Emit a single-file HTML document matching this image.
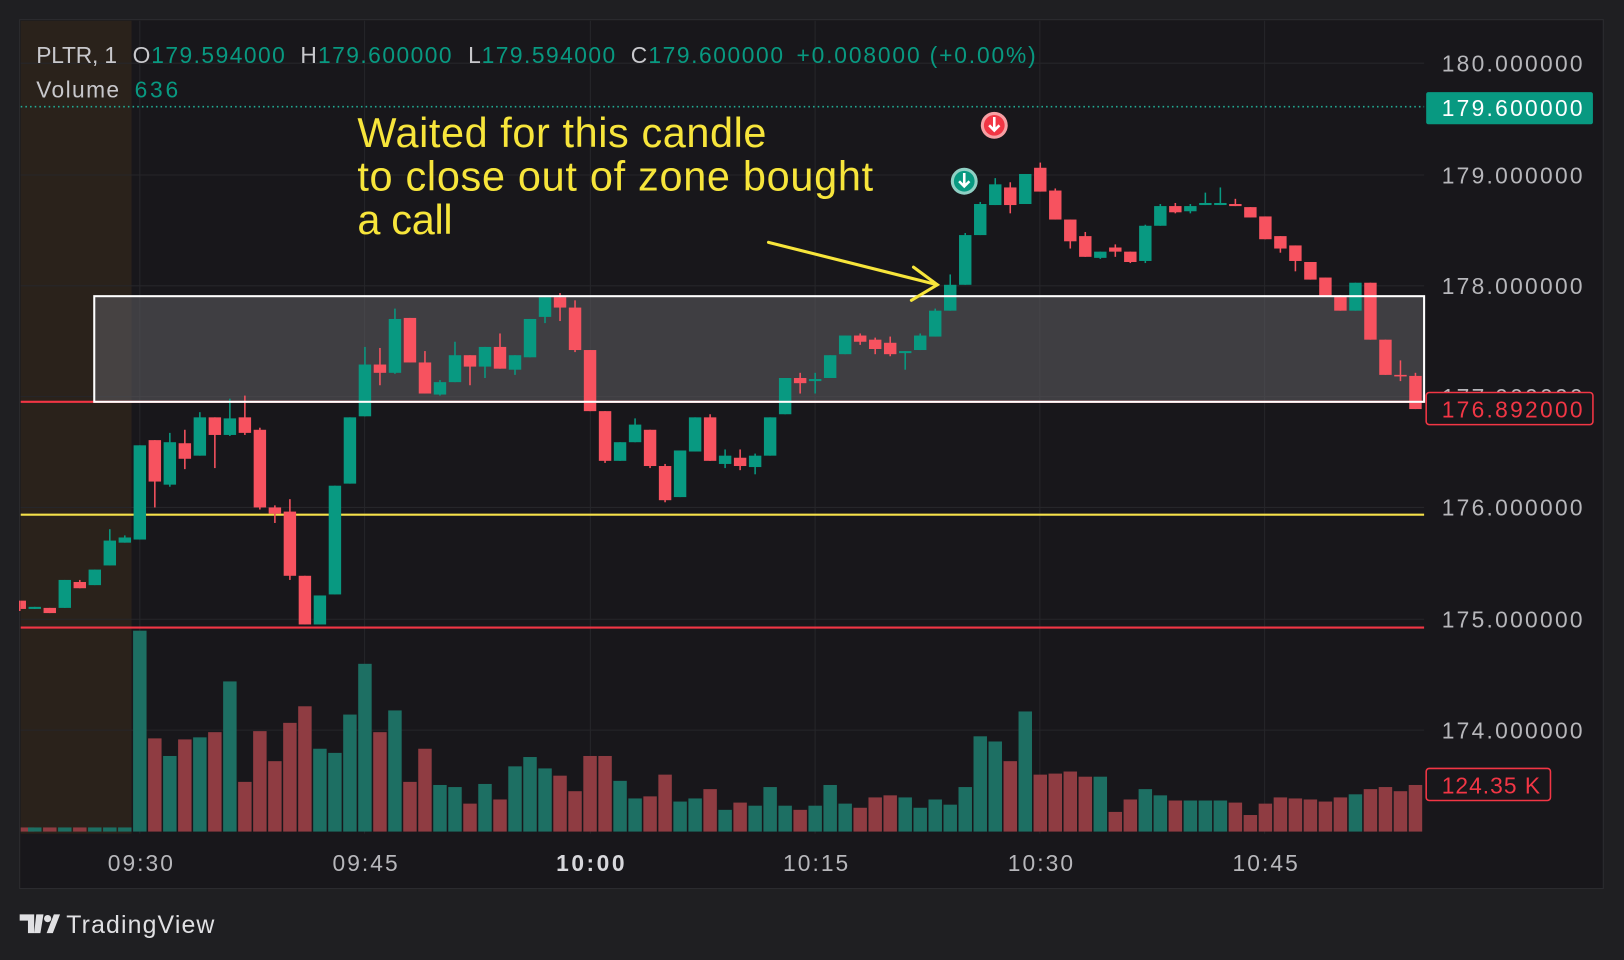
<!DOCTYPE html>
<html><head><meta charset="utf-8"><style>
html,body{margin:0;padding:0;background:#1f1f22;overflow:hidden}
svg{display:block}
text{font-family:"Liberation Sans",sans-serif}
</style></head><body>
<svg id="s" width="1624" height="960" viewBox="0 0 1568 927" preserveAspectRatio="none" xmlns="http://www.w3.org/2000/svg">
<rect x="0" y="0" width="1568" height="927" fill="#1f1f22"/>
<rect x="19" y="19" width="1529" height="839" fill="#18171b" stroke="#2c2c30" stroke-width="1"/>
<rect x="20" y="20" width="107" height="785" fill="#2a221b"/>
<g id="grid" stroke="#26262a" stroke-width="1"></g>
<rect x="91" y="286" width="1284" height="102" fill="#5a595e" fill-opacity="0.6"/>
<line x1="20" y1="388" x2="1375" y2="388" stroke="#f23645" stroke-width="2"/>
<line x1="20" y1="497" x2="1375" y2="497" stroke="#f5e14a" stroke-width="2"/>
<line x1="20" y1="606" x2="1375" y2="606" stroke="#f23645" stroke-width="2"/>
<line x1="20" y1="103" x2="1375" y2="103" stroke="#22ab94" stroke-width="1.5" stroke-dasharray="1.5,3"/>
<g id="vol"></g>
<g id="cand"></g>
<rect x="91" y="286" width="1284" height="102" fill="none" stroke="#ffffff" stroke-width="2"/>
<g font-size="22" fill="#b7b7bb">
<text x="1392" y="69" textLength="136">180.000000</text>
<text x="1392" y="177" textLength="136">179.000000</text>
<text x="1392" y="284" textLength="136">178.000000</text>
<text x="1392" y="391" textLength="136">177.000000</text>
<text x="1392" y="498" textLength="136">176.000000</text>
<text x="1392" y="606" textLength="136">175.000000</text>
<text x="1392" y="713" textLength="136">174.000000</text>
</g>
<rect x="1377" y="89" width="161" height="31" rx="2" fill="#089981"/>
<text x="1392" y="112" font-size="22" fill="#ffffff" textLength="136">179.600000</text>
<rect x="1377" y="379" width="161" height="31" rx="3" fill="#18171b" stroke="#f23645" stroke-width="1.5"/>
<text x="1392" y="403" font-size="22" fill="#f23645" textLength="136">176.892000</text>
<rect x="1377" y="742" width="120" height="31" rx="3" fill="#18171b" stroke="#f23645" stroke-width="1.5"/>
<text x="1392" y="766" font-size="22" fill="#f23645" textLength="95">124.35 K</text>
<g font-size="22" fill="#b7b7bb">
<text x="104" y="841" textLength="63">09:30</text>
<text x="321" y="841" textLength="63">09:45</text>
<text x="537" y="841" textLength="66" font-weight="bold" fill="#d8d8dc">10:00</text>
<text x="756" y="841" textLength="63">10:15</text>
<text x="973" y="841" textLength="63">10:30</text>
<text x="1190" y="841" textLength="63">10:45</text>
</g>
<g font-size="22" fill="#c8c8cc">
<text x="35" y="61" textLength="78">PLTR, 1</text>
<text x="128" y="61">O</text><text x="146" y="61" fill="#089981" textLength="129">179.594000</text>
<text x="290" y="61">H</text><text x="307" y="61" fill="#089981" textLength="129">179.600000</text>
<text x="452" y="61">L</text><text x="465" y="61" fill="#089981" textLength="129">179.594000</text>
<text x="609" y="61">C</text><text x="626" y="61" fill="#089981" textLength="130">179.600000</text>
<text x="769" y="61" fill="#089981" textLength="231">+0.008000 (+0.00%)</text>
<text x="35" y="94" textLength="80">Volume</text>
<text x="130" y="94" fill="#089981" textLength="42">636</text>
</g>
<g font-size="40" fill="#f7e53b">
<text x="345" y="142" textLength="395">Waited for this candle</text>
<text x="345" y="184" textLength="498">to close out of zone bought</text>
<text x="345" y="226" textLength="92">a call</text>
</g>
<g stroke="#f7e53b" stroke-width="3" fill="none" stroke-linecap="round">
<line x1="742" y1="234" x2="905" y2="275"/>
<polyline points="882,258 905,275 880,290"/>
</g>
<circle cx="960" cy="121" r="13" fill="#f7a0a4"/><circle cx="960" cy="121" r="10" fill="#f23645"/>
<path d="M960 113 v12 M955 121 l5 5 l5 -5" stroke="#fff" stroke-width="2.5" fill="none"/>
<circle cx="931" cy="175" r="13" fill="#8fd0c4"/><circle cx="931" cy="175" r="10" fill="#089981"/>
<path d="M931 167 v12 M926 175 l5 5 l5 -5" stroke="#fff" stroke-width="2.5" fill="none"/>
<g fill="#e0e0e3"><path d="M19 883 h14 v18 h-6 v-12 h-8z M35 883 h7 l-3 18 h-6z"/><circle cx="46" cy="887" r="3.5"/><path d="M52 883 h6 l-7 18 h-6z"/></g>
<text x="64" y="901" font-size="24" fill="#e0e0e3" textLength="143">TradingView</text>
</svg>
<script>
const NS="http://www.w3.org/2000/svg";
function el(p,t,a){const e=document.createElementNS(NS,t);for(const k in a)e.setAttribute(k,a[k]);p.appendChild(e);return e;}
const g=document.getElementById('grid');
[61,169,276,383,490,598,705].forEach(y=>el(g,'line',{x1:20,y1:y,x2:1375,y2:y}));
[135,352,570,787,1004,1221].forEach(x=>el(g,'line',{x1:x,y1:20,x2:x,y2:805}));
const C=[
[-8,580,588,580,590,'r'],[-7,586,588,586,588,'g'],[-6,587,592,587,592,'r'],[-5,560,587,560,587,'g'],
[-4,562,568,560,568,'r'],[-3,550,565,550,565,'g'],[-2,522,546,511,546,'g'],[-1,519,524,517,524,'g'],
[0,430,521,430,521,'g'],[1,425,465,425,490,'r'],[2,427,468,418,470,'g'],[3,428,443,415,453,'r'],
[4,403,440,398,440,'g'],[5,403,420,403,452,'r'],[6,404,420,385,421,'g'],[7,403,418,382,420,'r'],
[8,415,490,413,492,'r'],[9,490,496,488,505,'r'],[10,494,556,482,560,'r'],[11,556,603,556,603,'r'],
[12,575,603,575,603,'g'],[13,469,574,469,574,'g'],[14,403,467,403,467,'g'],[15,352,402,335,402,'g'],
[16,352,360,336,372,'r'],[17,308,360,298,361,'g'],[18,307,350,307,350,'r'],[19,350,380,339,380,'r'],
[20,369,381,367,382,'g'],[21,343,369,330,369,'g'],[22,343,354,343,372,'r'],[23,335,354,335,365,'g'],
[24,335,356,322,356,'r'],[25,343,357,343,362,'g'],[26,308,345,308,345,'g'],[27,287,306,287,312,'g'],
[28,287,297,283,310,'r'],[29,297,338,290,340,'r'],[30,338,397,338,397,'r'],[31,397,445,397,447,'r'],
[32,427,445,427,445,'g'],[33,410,427,404,427,'g'],[34,415,450,415,452,'r'],[35,450,483,448,485,'r'],
[36,435,480,435,480,'g'],[37,403,436,403,436,'g'],[38,403,445,400,445,'r'],[39,440,448,434,452,'g'],
[40,442,450,434,454,'r'],[41,440,451,438,458,'g'],[42,403,440,403,440,'g'],[43,365,400,365,400,'g'],
[44,365,370,360,380,'r'],[45,366,368,360,380,'g'],[46,343,365,343,365,'g'],[47,324,342,324,342,'g'],
[48,324,330,322,333,'r'],[49,328,337,326,342,'r'],[50,331,342,325,344,'r'],[51,339,341,339,357,'g'],
[52,324,338,322,338,'g'],[53,300,325,298,325,'g'],[54,275,300,265,300,'g'],[55,227,275,225,275,'g'],
[56,197,227,195,227,'g'],[57,178,198,172,198,'g'],[58,181,198,176,206,'r'],[59,168,197,168,197,'g'],
[60,162,185,157,185,'r'],[61,184,212,182,212,'r'],[62,212,233,212,240,'r'],[63,228,248,224,248,'r'],
[64,243,249,243,250,'g'],[65,239,243,236,248,'r'],[66,243,253,243,254,'r'],[67,218,252,217,254,'g'],
[68,199,218,197,218,'g'],[69,199,205,196,206,'r'],[70,199,204,197,206,'g'],[71,196,198,186,198,'g'],
[72,196,198,181,198,'g'],[73,197,199,192,199,'r'],[74,200,210,200,210,'r'],[75,209,231,209,231,'r'],
[76,228,240,228,244,'r'],[77,237,252,237,262,'r'],[78,253,270,253,270,'r'],[79,268,286,268,286,'r'],
[80,286,300,285,300,'r'],[81,273,300,273,300,'g'],[82,273,328,273,328,'r'],[83,328,362,328,362,'r'],
[84,362,363,348,368,'r'],[85,363,395,360,395,'r']];
const V={0:609,1:713,2:730,3:714,4:712,5:707,6:658,7:755,8:706,9:735,10:698,11:682,12:723,13:727,14:690,15:641,16:707,17:686,18:755,19:723,20:758,21:760,22:776,23:757,24:772,25:740,26:731,27:742,28:749,29:764,30:730,31:730,32:754,33:771,34:769,35:748,36:774,37:771,38:762,39:782,40:775,41:778,42:760,43:778,44:782,45:778,46:758,47:776,48:780,49:770,50:768,51:770,52:780,53:772,54:777,55:760,56:711,57:716,58:735,59:687,60:748,61:747,62:745,63:750,64:750,65:784,66:772,67:762,68:768,69:773,70:773,71:773,72:773,73:775,74:787,75:776,76:770,77:771,78:772,79:774,80:770,81:767,82:762,83:760,84:764,85:758};
const cg=document.getElementById('cand'),vg=document.getElementById('vol');
C.forEach(c=>{
 const x=135+14.49*c[0];const col=c[5]=='g'?'#089981':'#f7525f';
 const vcol=c[5]=='g'?'#1d6f63':'#8f3c42';
 const vt=V[c[0]]!==undefined?V[c[0]]:799;
 el(vg,'rect',{x:Math.max(20,x-6.5),y:vt,width:13,height:803-vt,fill:vcol});
 el(cg,'line',{x1:x,y1:c[3],x2:x,y2:c[4],stroke:col,'stroke-width':1.5});
 const h=Math.max(1.5,c[2]-c[1]);
 el(cg,'rect',{x:Math.max(20,x-6),y:c[1],width:x-6<20?x+6-20:12,height:h,fill:col});
});
</script>
</body></html>
